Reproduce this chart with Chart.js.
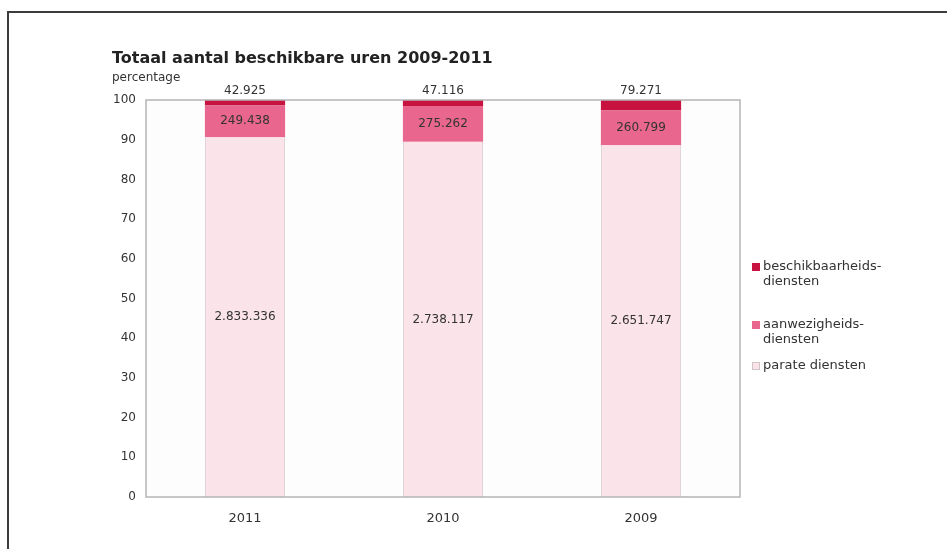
<!DOCTYPE html>
<html lang="nl">
  <head>
    <meta charset="UTF-8" />
    <title>Totaal aantal beschikbare uren 2009-2011</title>
    <script src="https://cdn.jsdelivr.net/npm/chart.js"></script>
    <style>
      html, body { margin: 0; padding: 0; background: #fff; }
      .kader {
        position: absolute; left: 7px; top: 11px; width: 960px; height: 560px;
        border-top: 2px solid #3c3c3c; border-left: 2px solid #3c3c3c;
      }
      .grafiek { position: absolute; left: 0; top: 0; width: 947px; height: 549px; }
    </style>
  </head>
  <body>
    <div class="kader"></div>
    <div class="grafiek"><canvas id="myChart" width="947" height="549"></canvas></div>

<script>
  // jaren en aantallen uren per soort dienst
  var jaren = ["2011", "2010", "2009"];
  var parate = [2833336, 2738117, 2651747];
  var aanwezigheid = [249438, 275262, 260799];
  var beschikbaarheid = [42925, 47116, 79271];
  var yTicks = [0, 10, 20, 30, 40, 50, 60, 70, 80, 90, 100];

  var cores = ["#fbe3ea", "#e9678f", "#c8123f"];
  var FONT = "'DejaVu Sans', Verdana, sans-serif";

  // aandeel van elke dienst in het totaal van dat jaar
  function percentage(reeks) {
    var uit = [];
    for (var i = 0; i < jaren.length; i++) {
      var totaal = parate[i] + aanwezigheid[i] + beschikbaarheid[i];
      uit.push(reeks[i] / totaal * 100);
    }
    return uit;
  }

  function formatNL(n) {
    return String(n).replace(/\B(?=(\d{3})+(?!\d))/g, ".");
  }

  var datasets = [
    { label: ["parate diensten"], ruw: parate, data: percentage(parate),
      backgroundColor: cores[0], borderColor: "#d9cfd2", borderWidth: { left: 1, right: 1 }, labelPos: "midden" },
    { label: ["aanwezigheids-", "diensten"], ruw: aanwezigheid, data: percentage(aanwezigheid),
      backgroundColor: cores[1], borderWidth: 0, labelPos: "midden" },
    { label: ["beschikbaarheids-", "diensten"], ruw: beschikbaarheid, data: percentage(beschikbaarheid),
      backgroundColor: cores[2], borderWidth: 0, labelPos: "boven" }
  ];

  var extras = {
    id: "extras",
    beforeDatasetsDraw: function (chart) {
      var ctx = chart.ctx;
      var a = chart.chartArea;
      ctx.save();
      ctx.fillStyle = "#fdfdfd";
      ctx.fillRect(a.left, a.top, a.right - a.left, a.bottom - a.top);
      ctx.restore();
    },
    afterDatasetsDraw: function (chart) {
      var ctx = chart.ctx;
      var a = chart.chartArea;
      ctx.save();
      // kader rond het plotgebied
      ctx.strokeStyle = "#b4b4b4";
      ctx.lineWidth = 1.5;
      ctx.strokeRect(a.left, a.top, a.right - a.left, a.bottom - a.top);

      // getallen bij de staven
      ctx.font = "12px " + FONT;
      ctx.fillStyle = "#333";
      ctx.textAlign = "center";
      ctx.textBaseline = "middle";
      chart.data.datasets.forEach(function (ds, d) {
        var meta = chart.getDatasetMeta(d);
        meta.data.forEach(function (bar, i) {
          var txt = formatNL(ds.ruw[i]);
          if (ds.labelPos === "boven") {
            ctx.fillText(txt, bar.x, bar.y - 9);
          } else {
            ctx.fillText(txt, bar.x, (bar.y + bar.base) / 2);
          }
        });
      });

      // titel
      ctx.textAlign = "left";
      ctx.textBaseline = "alphabetic";
      ctx.fillStyle = "#222";
      ctx.font = "bold 16px " + FONT;
      ctx.fillText("Totaal aantal beschikbare uren 2009-2011", 112, 63);
      ctx.font = "12px " + FONT;
      ctx.fillStyle = "#333";
      ctx.fillText("percentage", 112, 81);

      // legenda, bovenste laag eerst
      var ys = [267, 325, 366];
      var volgorde = [2, 1, 0];
      ctx.font = "13px " + FONT;
      ctx.textBaseline = "middle";
      volgorde.forEach(function (d, k) {
        var ds = chart.data.datasets[d];
        ctx.fillStyle = ds.backgroundColor;
        ctx.fillRect(752, ys[k] - 4, 8, 8);
        if (d === 0) {
          ctx.strokeStyle = "#d0c4c8";
          ctx.lineWidth = 1;
          ctx.strokeRect(752.5, ys[k] - 3.5, 7, 7);
        }
        ctx.fillStyle = "#333";
        ds.label.forEach(function (regel, r) {
          ctx.fillText(regel, 763, ys[k] + r * 15);
        });
      });
      ctx.restore();
    }
  };

  const ctx = document.getElementById("myChart");
  new Chart(ctx, {
    type: "bar",
    data: { labels: jaren, datasets: datasets },
    options: {
      responsive: false,
      animation: false,
      layout: { padding: { left: 0, right: 207, top: 100, bottom: 0 } },
      plugins: { legend: { display: false }, title: { display: false }, tooltip: { enabled: false } },
      datasets: { bar: { categoryPercentage: 0.405, barPercentage: 1 } },
      scales: {
        x: {
          stacked: true,
          grid: { display: false, drawTicks: false },
          border: { display: false },
          ticks: { color: "#333", font: { family: FONT, size: 13 }, padding: 14 },
          afterFit: function (s) { s.height = 52; }
        },
        y: {
          stacked: true,
          min: 0,
          max: 100,
          afterBuildTicks: function (s) { s.ticks = yTicks.map(function (v) { return { value: v }; }); },
          grid: { display: false, drawTicks: false },
          border: { display: false },
          ticks: { color: "#333", font: { family: FONT, size: 12 }, padding: 10 },
          afterFit: function (s) { s.width = 146; }
        }
      }
    },
    plugins: [extras]
  });
</script>
  </body>
</html>
